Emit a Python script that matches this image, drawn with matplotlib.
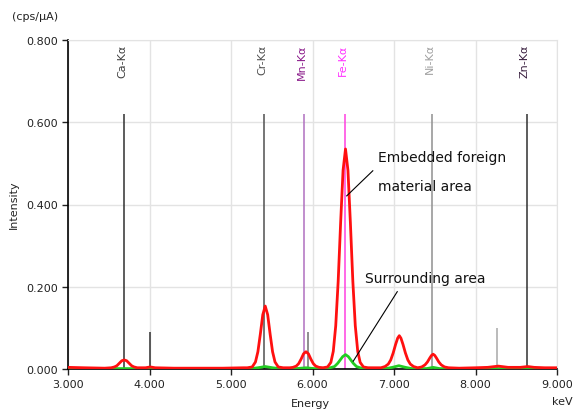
import matplotlib
matplotlib.use("Agg")
import matplotlib.pyplot as plt

# ---- data ----
red_e = [3.00, 3.20, 3.45, 3.53, 3.57, 3.60, 3.63, 3.66, 3.69, 3.72, 3.75, 3.78, 3.81, 3.85,
         3.95, 4.01, 4.07, 4.30, 4.60, 4.90, 5.15,
         5.20, 5.26, 5.30, 5.33, 5.36, 5.39, 5.42, 5.45, 5.48, 5.51, 5.54, 5.58, 5.64,
         5.72, 5.76, 5.80, 5.83, 5.86, 5.89, 5.92, 5.95, 5.98, 6.01, 6.04, 6.08,
         6.13, 6.185, 6.225, 6.255, 6.285, 6.315, 6.345, 6.375, 6.405, 6.435, 6.465, 6.495,
         6.525, 6.555, 6.585, 6.625, 6.68, 6.75,
         6.84, 6.89, 6.93, 6.96, 6.99, 7.02, 7.045, 7.065, 7.085, 7.11, 7.14, 7.17, 7.20, 7.24, 7.29,
         7.34, 7.38, 7.41, 7.44, 7.46, 7.48, 7.50, 7.52, 7.55, 7.58, 7.62, 7.67,
         7.80, 8.00, 8.15, 8.28, 8.40, 8.55, 8.64, 8.72, 8.85, 9.00]
red_i = [0.004, 0.003, 0.002, 0.003, 0.005, 0.008, 0.014, 0.020, 0.022, 0.020, 0.014, 0.008, 0.005, 0.003,
         0.003, 0.005, 0.003, 0.002, 0.002, 0.002, 0.003,
         0.003, 0.005, 0.017, 0.042, 0.085, 0.132, 0.153, 0.132, 0.085, 0.042, 0.017, 0.005, 0.003,
         0.003, 0.004, 0.007, 0.013, 0.024, 0.037, 0.042, 0.037, 0.024, 0.013, 0.007, 0.004,
         0.003, 0.005, 0.016, 0.043, 0.105, 0.213, 0.355, 0.483, 0.535, 0.483, 0.355, 0.213,
         0.105, 0.043, 0.016, 0.005, 0.003, 0.003,
         0.003, 0.006, 0.012, 0.022, 0.039, 0.060, 0.075, 0.081, 0.075, 0.060, 0.039, 0.022, 0.012, 0.006, 0.003,
         0.005, 0.010, 0.017, 0.027, 0.033, 0.036, 0.033, 0.027, 0.017, 0.010, 0.005, 0.003,
         0.002, 0.003, 0.004, 0.007, 0.004, 0.004, 0.006, 0.004, 0.003, 0.003]

green_e = [3.00, 5.25, 5.33, 5.42, 5.51, 5.60, 5.80, 5.92, 6.02, 6.20, 6.27, 6.31, 6.34, 6.37,
           6.405, 6.44, 6.47, 6.50, 6.54, 6.60, 6.90, 6.98, 7.06, 7.14, 7.22, 7.40, 7.48, 7.56, 9.00]
green_i = [0.001, 0.001, 0.003, 0.006, 0.003, 0.001, 0.001, 0.003, 0.001, 0.002, 0.006, 0.014, 0.022, 0.030,
           0.035, 0.030, 0.022, 0.014, 0.006, 0.002, 0.001, 0.004, 0.008, 0.004, 0.001, 0.001, 0.004, 0.001, 0.001]

ka_names = ["Ca-Kα", "Cr-Kα", "Mn-Kα", "Fe-Kα", "Ni-Kα", "Zn-Kα"]
ka_energy = [3.69, 5.41, 5.90, 6.40, 7.47, 8.63]
ka_height = 0.62
ka_line_colors = ["#303030", "#505050", "#b070c0", "#ff40e0", "#909090", "#303030"]
ka_text_colors = ["#404040", "#505050", "#8a1a8a", "#ff30ff", "#a0a0a0", "#3a2040"]

kb_energy = [4.01, 5.95, 8.26]
kb_height = [0.090, 0.090, 0.100]
kb_colors = ["#303030", "#707070", "#a8a8a8"]

x_ticks = [3.0, 4.0, 5.0, 6.0, 7.0, 8.0, 9.0]
y_ticks = [0.0, 0.2, 0.4, 0.6, 0.8]

# ---- figure ----
fig = plt.figure(figsize=(5.75, 4.10), dpi=100)
ax = fig.add_axes([68 / 575, 1 - 370 / 410, (557 - 68) / 575, (370 - 41) / 410])
ax.set_xlim(3.0, 9.0)
ax.set_ylim(0.0, 0.8)

ax.set_xticks(x_ticks)
ax.set_yticks(y_ticks)
ax.set_xticklabels([f"{v:.3f}" for v in x_ticks])
ax.set_yticklabels([f"{v:.3f}" for v in y_ticks])
ax.tick_params(axis="both", labelsize=8, length=4, width=1, colors="#222222", direction="out")
ax.grid(True, color="#e3e3e3", linewidth=1)
ax.set_axisbelow(True)
for s in ["top", "right"]:
    ax.spines[s].set_color("#e3e3e3")
for s in ["left", "bottom"]:
    ax.spines[s].set_color("#000000")
    ax.spines[s].set_linewidth(1.2)

for e, c, tc, n in zip(ka_energy, ka_line_colors, ka_text_colors, ka_names):
    ax.vlines(e, 0, ka_height, color=c, linewidth=1.1, zorder=2)
    ax.text(e - 0.025, 0.792, n, rotation=90, ha="center", va="top", fontsize=8, color=tc)
for e, h, c in zip(kb_energy, kb_height, kb_colors):
    ax.vlines(e, 0, h, color=c, linewidth=1.1, zorder=2)

ax.plot(green_e, green_i, color="#22cc22", linewidth=2, zorder=3)
ax.plot(red_e, red_i, color="#ff1010", linewidth=2, zorder=4)

# annotations
ax.plot([6.42, 6.74], [0.421, 0.482], color="#000000", linewidth=0.8, zorder=5)
ax.text(6.80, 0.515, "Embedded foreign", fontsize=10, color="#111111", va="center")
ax.text(6.80, 0.445, "material area", fontsize=10, color="#111111", va="center")
ax.plot([6.50, 7.04], [0.019, 0.188], color="#000000", linewidth=0.8, zorder=5)
ax.text(6.64, 0.222, "Surrounding area", fontsize=10, color="#111111", va="center")

fig.text(12 / 575, 1 - 17 / 410, "(cps/µA)", fontsize=8, color="#222222", va="center")
fig.text(14 / 575, 1 - 205 / 410, "Intensity", fontsize=8, color="#222222", rotation=90,
         va="center", ha="center")
fig.text(310 / 575, 1 - 404 / 410, "Energy", fontsize=8, color="#222222", va="center", ha="center")
fig.text(552 / 575, 1 - 402 / 410, "keV", fontsize=8, color="#222222", va="center", ha="left")

fig.savefig("out.png", dpi=100)
